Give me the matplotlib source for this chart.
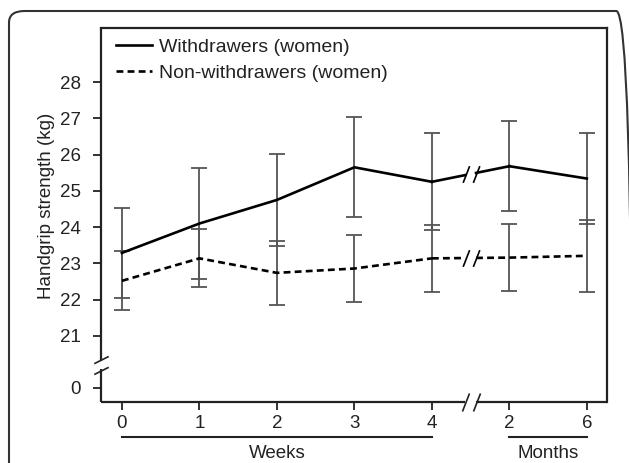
import numpy as np
import matplotlib.pyplot as plt
from matplotlib.patches import FancyBboxPatch
from matplotlib.path import Path

plt.rcParams['font.family'] = ['Liberation Sans', 'DejaVu Sans']

# time points: weeks 0-4, then months 2 and 6 (drawn at positions 5 and 6)
tick_labels = ['0', '1', '2', '3', '4', '2', '6']
xpos = np.arange(len(tick_labels))

withdrawers = [23.29, 24.10, 24.75, 25.65, 25.25, 25.68, 25.34]
withdrawers_err = [1.25, 1.54, 1.26, 1.38, 1.34, 1.24, 1.25]
non_withdrawers = [22.52, 23.14, 22.74, 22.86, 23.14, 23.16, 23.21]
non_withdrawers_err = [0.81, 0.80, 0.89, 0.93, 0.92, 0.92, 0.99]

# fake position of the "0" tick below the y break
zero_pos = 19.57
ytick_vals = [zero_pos] + list(range(21, 29))
ytick_labels = ['0'] + [str(v) for v in range(21, 29)]

txt = '#222222'
errc = '#555555'
fs = 13.5

fig = plt.figure(figsize=(6.29, 4.63), dpi=100)
ax = fig.add_axes([101/629, 1-402/463, 506/629, 374/463])

# outer rounded frame (bottom runs off the picture)
frame = FancyBboxPatch((9/629, -0.1), 623/629, 1.1 - 11/463, boxstyle='round,pad=0,rounding_size=0.025',
                       transform=fig.transFigure, fill=False, lw=1.5, ec='#333333', figure=fig)
fig.patches.append(frame)

xb = 4.5  # x break between weeks and months
gap = 0.07

slash = Path([(-0.45, -0.45), (-0.1, 0.45), (0.1, -0.45), (0.45, 0.45)],
             [Path.MOVETO, Path.LINETO, Path.MOVETO, Path.LINETO])

def draw_series(vals, errs, ls, label):
    ax.errorbar(xpos, vals, yerr=errs, fmt='none', ecolor=errc, elinewidth=1.3,
                capsize=6, capthick=1.3, zorder=2)
    dash = (0, (2.6, 1.6)) if ls == '--' else '-'
    ax.plot(xpos[:5], vals[:5], color='black', lw=1.9, ls=dash, label=label, zorder=3)
    ax.plot(xpos[5:], vals[5:], color='black', lw=1.9, ls=dash, zorder=3)
    # bridge across the break with a gap
    ya = np.interp(xb - gap, [4, 5], [vals[4], vals[5]])
    yb = np.interp(xb + gap, [4, 5], [vals[4], vals[5]])
    ax.plot([4, xb - gap], [vals[4], ya], color='black', lw=1.9, ls=dash, zorder=3)
    ax.plot([xb + gap, 5], [yb, vals[5]], color='black', lw=1.9, ls=dash, zorder=3)
    ym = np.interp(xb, [4, 5], [vals[4], vals[5]])
    ax.plot([xb], [ym], marker=slash, ms=12, color='black', mew=1.2, zorder=4, clip_on=False)

draw_series(withdrawers, withdrawers_err, '-', 'Withdrawers (women)')
draw_series(non_withdrawers, non_withdrawers_err, '--', 'Non-withdrawers (women)')

ax.set_xlim(-0.27, 6.26)
ax.set_ylim(19.18, 29.49)

ax.set_xticks(xpos)
ax.set_xticklabels(tick_labels)
ax.set_yticks(ytick_vals)
ax.set_yticklabels(ytick_labels)
ax.tick_params(axis='both', direction='out', length=5.5, width=1.3, labelsize=fs,
               colors='#222222', labelcolor=txt)
ax.tick_params(axis='y', pad=9)
ax.tick_params(axis='x', pad=4)

for s in ax.spines.values():
    s.set_linewidth(1.6)
    s.set_color('#222222')
ax.spines['left'].set_visible(False)
ax.spines['bottom'].set_visible(False)

# broken left spine
ybrk = 20.2
ydel = 0.12
ax.plot([-0.27, -0.27], [19.18, ybrk - ydel], color='#222222', lw=1.6, clip_on=False, solid_capstyle='butt')
ax.plot([-0.27, -0.27], [ybrk + ydel, 29.49], color='#222222', lw=1.6, clip_on=False, solid_capstyle='butt')
ax.plot([-0.27], [ybrk], marker=Path([(-0.4, -0.5), (0.4, -0.1), (-0.4, 0.1), (0.4, 0.5)],
        [Path.MOVETO, Path.LINETO, Path.MOVETO, Path.LINETO]), ms=13, color='#222222', mew=1.2, clip_on=False)

# broken bottom spine
ax.plot([-0.27, xb - gap], [19.18, 19.18], color='#222222', lw=1.6, clip_on=False, solid_capstyle='butt')
ax.plot([xb + gap, 6.26], [19.18, 19.18], color='#222222', lw=1.6, clip_on=False, solid_capstyle='butt')
ax.plot([xb], [19.18], marker=slash, ms=13, color='#222222', mew=1.2, clip_on=False)

ax.set_ylabel('Handgrip strength (kg)', fontsize=fs, color=txt)
ax.yaxis.set_label_coords(-0.09, 0.525)

# group labels under the x axis
bt = ax.get_xaxis_transform()
ax.plot([0, 4], [-0.094, -0.094], transform=bt, color='#222222', lw=1.5, clip_on=False)
ax.plot([5, 6], [-0.094, -0.094], transform=bt, color='#222222', lw=1.5, clip_on=False)
ax.text(2, -0.138, 'Weeks', transform=bt, ha='center', va='center', fontsize=fs, color=txt)
ax.text(5.5, -0.138, 'Months', transform=bt, ha='center', va='center', fontsize=fs, color=txt)

ax.legend(loc='upper left', bbox_to_anchor=(0.008, 1.0), frameon=False, fontsize=14,
          handlelength=1.85, handletextpad=0.35, labelspacing=0.42, borderaxespad=0.15,
          labelcolor=txt)

fig.savefig('out.png', dpi=100)
